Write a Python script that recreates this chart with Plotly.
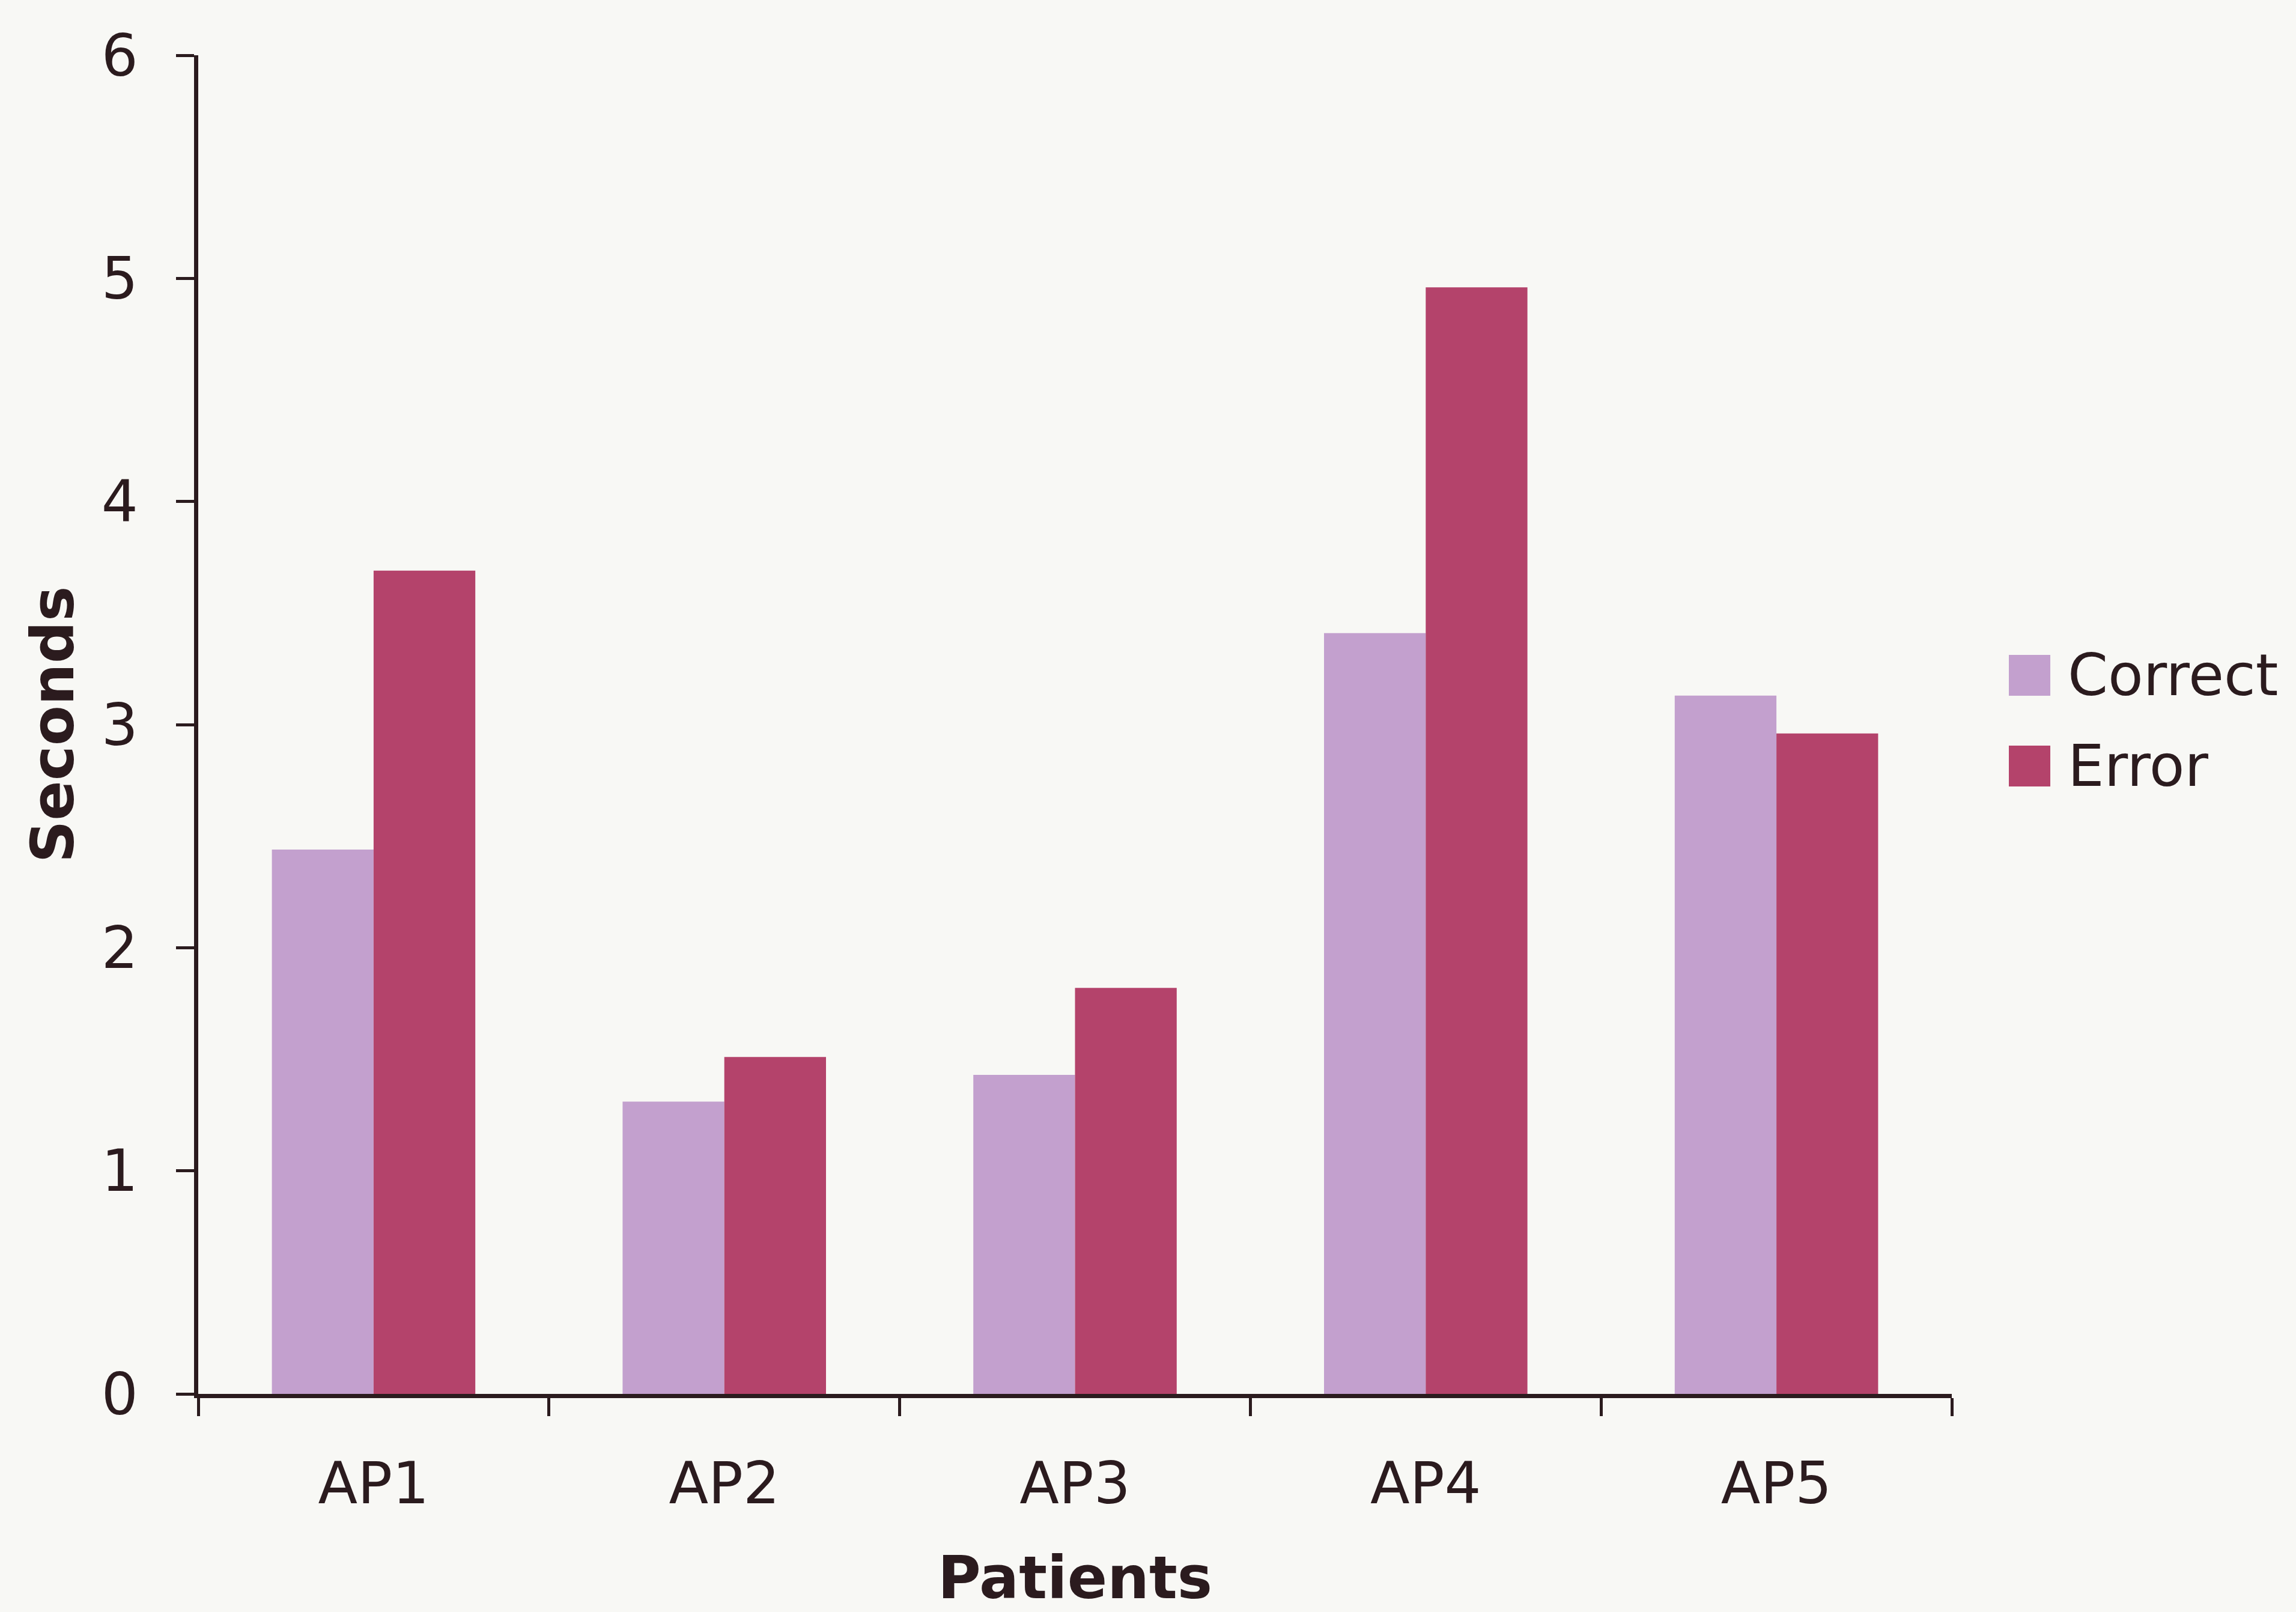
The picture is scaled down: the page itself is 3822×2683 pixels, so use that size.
import plotly.graph_objects as go

patients = ["AP1", "AP2", "AP3", "AP4", "AP5"]
correct = [2.44, 1.31, 1.43, 3.41, 3.13]
error = [3.69, 1.51, 1.82, 4.96, 2.96]
series_names = ["Correct", "Error"]
series_colors = ["#C3A0CE", "#B4436B"]
y_ticks = [0, 1, 2, 3, 4, 5, 6]

W, H = 3822, 2683
L, R, T, B = 330, 573, 92, 363
FONT = "DejaVu Sans"
INK = "#2B1B1E"
BG = "#F8F8F5"

fig = go.Figure()
for name, vals, col in zip(series_names, [correct, error], series_colors):
    fig.add_trace(go.Bar(x=patients, y=vals, name=name, marker_color=col,
                         marker_line_width=0, showlegend=False))

fig.update_layout(
    width=W, height=H,
    margin=dict(l=L, r=R, t=T, b=B),
    paper_bgcolor=BG, plot_bgcolor=BG,
    barmode="group", bargap=0.42, bargroupgap=0.0,
    font=dict(family=FONT, size=96, color=INK),
    xaxis=dict(
        type="category", range=[-0.5, 4.5], tickson="boundaries",
        showline=True, linecolor=INK, linewidth=7,
        ticks="outside", ticklen=30, tickwidth=5, tickcolor=INK,
        showgrid=False, zeroline=False, ticklabelstandoff=60,
        tickfont=dict(size=96, family=FONT, color=INK),
        title=dict(text="<b>Patients</b>", font=dict(size=98, family=FONT, color=INK), standoff=76),
    ),
    yaxis=dict(
        range=[0, 6], tickvals=y_ticks, ticktext=[str(v) for v in y_ticks],
        showline=True, linecolor=INK, linewidth=7,
        ticks="outside", ticklen=30, tickwidth=5, tickcolor=INK,
        showgrid=False, zeroline=False, ticklabelstandoff=44,
        tickfont=dict(size=96, family=FONT, color=INK),
        title=dict(text="<b>Seconds</b>", font=dict(size=98, family=FONT, color=INK), standoff=16),
    ),
)

# Manual legend (large swatches)
plot_w = W - L - R
plot_h = H - T - B
def px_to_paper_x(px):
    return (px - L) / plot_w
def px_to_paper_y(py):
    return (H - B - py) / plot_h

item_centers = [1124, 1275]
for name, col, cy in zip(series_names, series_colors, item_centers):
    fig.add_shape(type="rect", xref="paper", yref="paper",
                  x0=px_to_paper_x(3344), x1=px_to_paper_x(3413),
                  y0=px_to_paper_y(cy - 34), y1=px_to_paper_y(cy + 34),
                  fillcolor=col, line_width=0)
    fig.add_annotation(xref="paper", yref="paper", x=px_to_paper_x(3440), y=px_to_paper_y(cy),
                       text=name, showarrow=False, xanchor="left", yanchor="middle",
                       font=dict(size=96, family=FONT, color=INK))

fig.write_html("out.html")
